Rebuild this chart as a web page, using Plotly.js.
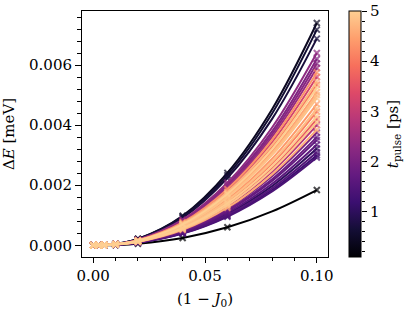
<!DOCTYPE html>
<html>
<head>
<meta charset="utf-8">
<script src="https://cdn.plot.ly/plotly-3.0.1.min.js"></script>
<style>html,body{margin:0;padding:0;background:#fff;}#chart{width:415px;height:314px;}</style>
</head>
<body>
<div id="chart"></div>
<script>
// (1 - J0) sample positions
const oneMinusJ0 = [0, 0.0025, 0.005, 0.01, 0.02, 0.04, 0.06, 0.08, 0.1];
// which samples carry a measurement marker (0.08 is a fit-only point)
const isMeasured = [1, 1, 1, 1, 1, 1, 1, 0, 1];
// pulse duration of each curve [ps]
const tPulse = [0.1, 0.4, 0.6, 0.7, 1.0, 1.2, 1.4, 1.5, 1.6, 1.7, 1.8, 2.0, 2.1, 2.2, 2.3, 2.4,
                2.8, 3.2, 3.6, 3.9, 4.1, 4.3, 4.4, 4.5, 4.6, 4.7, 4.75, 4.8, 4.85, 4.9, 4.95, 5.0];
// Delta E for each curve, in micro-eV (converted to meV when plotted)
const deltaE_ueV = [
  [0, 0.0006, 0.0026, 0.0116, 0.0534, 0.245, 0.598, 1.13, 1.84],
  [0, 0.0022, 0.0104, 0.0466, 0.215, 0.984, 2.41, 4.53, 7.40],
  [0, 0.0022, 0.0101, 0.0452, 0.208, 0.955, 2.33, 4.39, 7.18],
  [0, 0.0021, 0.0096, 0.0433, 0.200, 0.915, 2.24, 4.21, 6.88],
  [0, 0.0010, 0.0045, 0.0203, 0.0934, 0.428, 1.05, 1.97, 3.22],
  [0, 0.0009, 0.0042, 0.0189, 0.0870, 0.399, 0.975, 1.84, 3.00],
  [0, 0.0009, 0.0041, 0.0184, 0.0847, 0.388, 0.949, 1.79, 2.92],
  [0, 0.0009, 0.0043, 0.0195, 0.0899, 0.412, 1.01, 1.90, 3.10],
  [0, 0.0010, 0.0047, 0.0211, 0.0972, 0.446, 1.09, 2.05, 3.35],
  [0, 0.0011, 0.0049, 0.0221, 0.102, 0.466, 1.14, 2.14, 3.50],
  [0, 0.0011, 0.0050, 0.0227, 0.104, 0.479, 1.17, 2.20, 3.60],
  [0, 0.0011, 0.0053, 0.0236, 0.109, 0.499, 1.22, 2.30, 3.75],
  [0, 0.0019, 0.0087, 0.0391, 0.180, 0.825, 2.02, 3.79, 6.20],
  [0, 0.0018, 0.0085, 0.0381, 0.175, 0.805, 1.97, 3.70, 6.05],
  [0, 0.0019, 0.0090, 0.0403, 0.186, 0.851, 2.08, 3.92, 6.40],
  [0, 0.0018, 0.0083, 0.0372, 0.171, 0.785, 1.92, 3.61, 5.90],
  [0, 0.0012, 0.0056, 0.0252, 0.116, 0.532, 1.30, 2.45, 4.00],
  [0, 0.0017, 0.0078, 0.0353, 0.162, 0.745, 1.82, 3.43, 5.60],
  [0, 0.0013, 0.0059, 0.0265, 0.122, 0.559, 1.37, 2.57, 4.20],
  [0, 0.0016, 0.0075, 0.0337, 0.155, 0.712, 1.74, 3.27, 5.35],
  [0, 0.0013, 0.0062, 0.0280, 0.129, 0.592, 1.45, 2.72, 4.45],
  [0, 0.0017, 0.0081, 0.0362, 0.167, 0.765, 1.87, 3.52, 5.75],
  [0, 0.0014, 0.0066, 0.0296, 0.136, 0.625, 1.53, 2.88, 4.70],
  [0, 0.0015, 0.0071, 0.0321, 0.148, 0.678, 1.66, 3.12, 5.10],
  [0, 0.0012, 0.0054, 0.0243, 0.112, 0.512, 1.25, 2.36, 3.85],
  [0, 0.0016, 0.0076, 0.0343, 0.158, 0.725, 1.77, 3.34, 5.45],
  [0, 0.0015, 0.0070, 0.0315, 0.145, 0.665, 1.63, 3.06, 5.00],
  [0, 0.0014, 0.0064, 0.0287, 0.132, 0.605, 1.48, 2.78, 4.55],
  [0, 0.0015, 0.0069, 0.0309, 0.142, 0.652, 1.59, 3.00, 4.90],
  [0, 0.0012, 0.0057, 0.0258, 0.119, 0.545, 1.33, 2.51, 4.10],
  [0, 0.0013, 0.0060, 0.0271, 0.125, 0.572, 1.40, 2.63, 4.30],
  [0, 0.0016, 0.0074, 0.0331, 0.152, 0.698, 1.71, 3.21, 5.25]
];
const colorbarTicks = [1, 2, 3, 4, 5];

// magma colour map (truncated at its light end)
const magma = [
  [0.000, '#000004'], [0.111, '#140e36'], [0.222, '#3b0f70'], [0.333, '#641a80'],
  [0.444, '#8c2981'], [0.556, '#b73779'], [0.667, '#de4968'], [0.778, '#f7705c'],
  [0.889, '#fe9f6d'], [1.000, '#fecf92']
];
const tMin = 0.1, tMax = 5;
function hex2rgb(h){return [parseInt(h.slice(1,3),16),parseInt(h.slice(3,5),16),parseInt(h.slice(5,7),16)];}
function cmap(t){
  const s = Math.min(1, Math.max(0, (t - tMin) / (tMax - tMin)));
  for (let i = 1; i < magma.length; i++) {
    if (s <= magma[i][0]) {
      const a = magma[i-1], b = magma[i];
      const f = (s - a[0]) / (b[0] - a[0]);
      const ca = hex2rgb(a[1]), cb = hex2rgb(b[1]);
      const c = ca.map((v, k) => Math.round(v + f * (cb[k] - v)));
      return 'rgb(' + c.join(',') + ')';
    }
  }
  return magma[magma.length-1][1];
}

const FONT = 'DejaVu Serif, serif';
const markerSizes = isMeasured.map(m => m ? 6 : 0);
const traces = tPulse.map((t, i) => {
  const c = cmap(t);
  return {
    type: 'scatter', mode: 'lines+markers',
    x: oneMinusJ0, y: deltaE_ueV[i].map(v => v / 1000),
    line: {color: c, width: 2, shape: 'spline', smoothing: 1},
    marker: {symbol: 'x-thin', size: markerSizes, color: c, line: {color: c, width: 2}},
    showlegend: false, hoverinfo: 'skip'
  };
});
// carrier trace for the colour bar
traces.push({
  type: 'scatter', mode: 'markers', x: [-1, -1], y: [tMin, tMax], yaxis: 'y2',
  marker: {color: [tMin, tMax], colorscale: magma, cmin: tMin, cmax: tMax, size: 1,
    showscale: true,
    colorbar: {x: 0.8812, xanchor: 'left', xpad: 0, y: 0.5, yanchor: 'middle', ypad: 0,
      len: 1, lenmode: 'fraction', thickness: 12, thicknessmode: 'pixels',
      outlinewidth: 1, outlinecolor: '#000', ticks: '', showticklabels: false}},
  showlegend: false, hoverinfo: 'skip'
});

const layout = {
  width: 415, height: 314,
  margin: {l: 82, r: 30, t: 11, b: 57},
  paper_bgcolor: '#fff', plot_bgcolor: '#fff',
  font: {family: FONT, size: 15, color: '#000'},
  showlegend: false,
  xaxis: {
    domain: [0, 0.8119], range: [-0.005, 0.105], dtick: 0.05, tick0: 0, tickformat: '.2f',
    ticks: 'outside', ticklen: 5, tickwidth: 1, tickcolor: '#000',
    minor: {dtick: 0.01, ticks: 'outside', ticklen: 3, tickcolor: '#000', tickwidth: 1},
    showline: true, linecolor: '#000', linewidth: 1, mirror: true,
    showgrid: false, zeroline: false,
    tickfont: {family: FONT, size: 15},
    title: {text: '(1 − <i>J</i><sub>0</sub>)', font: {family: FONT, size: 15}, standoff: 9}
  },
  yaxis: {
    range: [-0.00039, 0.0078], dtick: 0.002, tick0: 0, tickformat: '.3f',
    ticks: 'outside', ticklen: 6, tickwidth: 1, tickcolor: '#000',
    minor: {dtick: 0.0004, ticks: 'outside', ticklen: 4, tickcolor: '#000', tickwidth: 1},
    showline: true, linecolor: '#000', linewidth: 1, mirror: true,
    showgrid: false, zeroline: false,
    tickfont: {family: FONT, size: 15},
    title: {text: 'Δ<i>E</i> [meV]', font: {family: FONT, size: 15}, standoff: 10}
  },
  yaxis2: {
    overlaying: 'y', anchor: 'free', position: 0.9208, side: 'right',
    range: [tMin, tMax], tickvals: colorbarTicks,
    ticks: 'outside', ticklen: 5, tickwidth: 1, tickcolor: '#000',
    minor: {dtick: 0.2, ticks: 'outside', ticklen: 3, tickcolor: '#000', tickwidth: 1},
    showline: false, showgrid: false, zeroline: false,
    tickfont: {family: FONT, size: 15},
    title: {text: '<i>t</i><sub>pulse</sub> [ps]', font: {family: FONT, size: 15}, standoff: 8}
  }
};

Plotly.newPlot('chart', traces, layout, {staticPlot: true, displayModeBar: false});
</script>
</body>
</html>
